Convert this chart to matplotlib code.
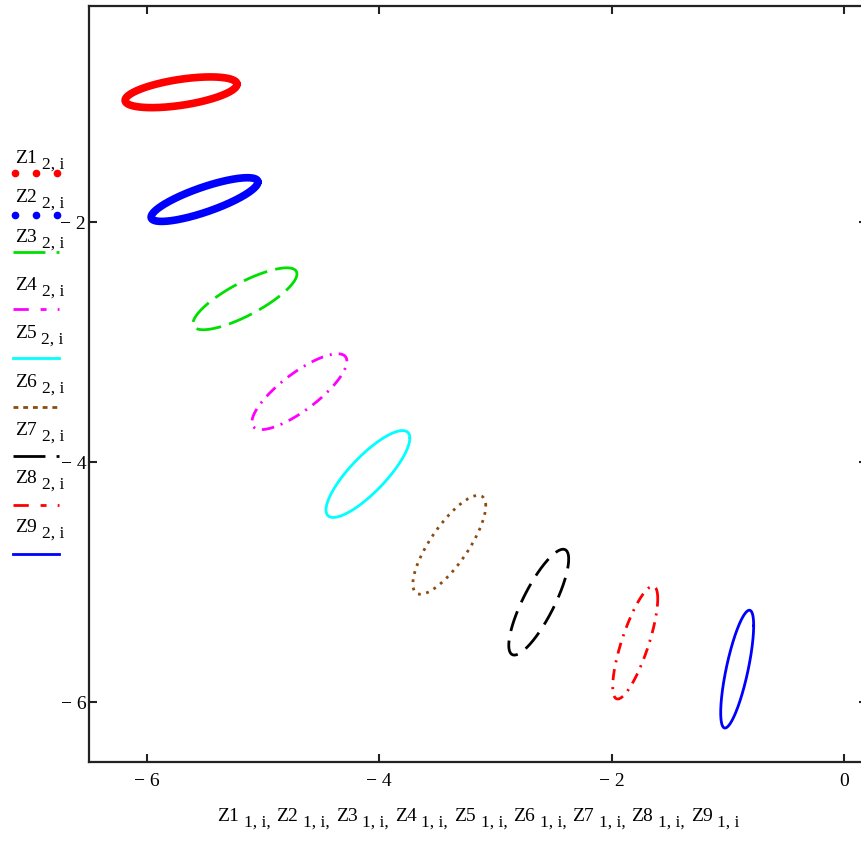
import numpy as np
import matplotlib
matplotlib.use("Agg")
import matplotlib.pyplot as plt
from matplotlib.lines import Line2D

plt.rcParams['font.family'] = ['Liberation Serif', 'DejaVu Serif']
plt.rcParams['lines.scale_dashes'] = False

W, H = 861, 841

# ellipse parameters (data units)
names = ['Z1', 'Z2', 'Z3', 'Z4', 'Z5', 'Z6', 'Z7', 'Z8', 'Z9']
center_x = [-5.707, -5.505, -5.157, -4.688, -4.098, -3.397, -2.627, -1.796, -0.918]
center_y = [-0.919, -1.813, -2.640, -3.414, -4.100, -4.690, -5.168, -5.505, -5.726]
radius_x = [0.482, 0.460, 0.448, 0.409, 0.361, 0.314, 0.258, 0.194, 0.142]
radius_y = [0.128, 0.182, 0.258, 0.316, 0.362, 0.412, 0.441, 0.470, 0.491]
phase = [1.02, 0.64, 0.64, 0.64, 0.60, 0.66, 0.62, 0.68, 0.74]

x_ticks = [-6, -4, -2, 0]
y_ticks = [-2, -4, -6]

# color, line width, dash pattern on the plot, dash pattern in the legend
styles = [
    ('#ff0000', 5.5, None, 'dots'),
    ('#0000ff', 5.5, None, 'dots'),
    ('#00e000', 2.0, (0, (18, 6)), (0, (23, 8))),
    ('#ff00ff', 2.0, (0, (9, 5, 1.5, 5)), (0, (11, 8.5, 4.3, 8))),
    ('#00ffff', 2.0, None, None),
    ('#8b4c12', 2.0, (0, (2, 4)), (0, (3.5, 3.5))),
    ('#000000', 2.0, (0, (15, 7)), (0, (23, 8))),
    ('#ff0000', 2.0, (0, (8, 5, 1.5, 5)), (0, (11, 8.5, 4.3, 8))),
    ('#0000ff', 2.0, None, None),
]


def minus(v):
    return '0' if v == 0 else '\u2212 %d' % abs(v)


def chain(ax, x_px, y_px, parts, size, sub_size, drop=4.0, back=4.0):
    # draws base text and subscripts one after another
    prev = None
    prev_sub = False
    for txt, is_sub in parts:
        fs = sub_size if is_sub else size
        if prev is None:
            prev = ax.annotate(txt, xy=(x_px / W, 1 - y_px / H), xycoords='figure fraction',
                               va='bottom', ha='left', fontsize=fs, annotation_clip=False)
        else:
            if is_sub and not prev_sub:
                off = (3.5, -drop)
            elif prev_sub and not is_sub:
                off = (back, drop)
            else:
                off = (0, 0)
            prev = ax.annotate(txt, xy=(1, 0), xycoords=prev, xytext=off,
                               textcoords='offset points', va='bottom', ha='left',
                               fontsize=fs, annotation_clip=False)
        prev_sub = is_sub
    return prev


fig = plt.figure(figsize=(W / 100, H / 100), dpi=100)
ax = fig.add_axes([89 / W, 79 / H, (867 - 89) / W, (835 - 79) / H])

t = np.linspace(0, 2 * np.pi, 400)
for k in range(9):
    color, lw, dash, _ = styles[k]
    x = center_x[k] + radius_x[k] * np.cos(t)
    y = center_y[k] + radius_y[k] * np.cos(t - phase[k])
    ax.plot(x, y, color=color, lw=lw, linestyle=dash if dash else '-',
            solid_capstyle='round', solid_joinstyle='round')

ax.set_xlim(-6.5, 0.2)
ax.set_ylim(-6.5, -0.2)
ax.set_xticks(x_ticks)
ax.set_xticklabels([minus(v) for v in x_ticks], fontsize=14)
ax.set_yticks(y_ticks)
ax.set_yticklabels([minus(v) for v in y_ticks], fontsize=14)
ax.tick_params(direction='in', top=True, right=True, length=6, width=1.5, color='#222222')
ax.tick_params(axis='x', pad=8)
ax.tick_params(axis='y', pad=2)
for s in ax.spines.values():
    s.set_linewidth(1.6)
    s.set_color('#222222')

# legend on the left
text_y = [163, 202, 242, 290, 338, 387, 435, 483, 532]
line_y = [173, 215, 252, 309, 358, 407, 456, 505, 554]
for k in range(9):
    color, lw, _, leg = styles[k]
    chain(ax, 15, text_y[k] + 4, [(names[k], False), ('2, i', True)], 14, 12.5)
    yy = 1 - line_y[k] / H
    if leg == 'dots':
        fig.add_artist(Line2D([15 / W, 36 / W, 57 / W], [yy] * 3, transform=fig.transFigure,
                              color=color, ls='none', marker='o', markersize=4.5))
    else:
        fig.add_artist(Line2D([13 / W, 59 / W], [yy, yy], transform=fig.transFigure,
                              color=color, lw=2.0, linestyle=leg if leg else '-'))

# x axis title
parts = []
for k in range(9):
    parts.append((names[k], False))
    parts.append(('1, i,' if k < 8 else '1, i', True))
chain(ax, 217, 825, parts, 14, 12.5, back=4.2)

fig.savefig('out.png', dpi=100)
